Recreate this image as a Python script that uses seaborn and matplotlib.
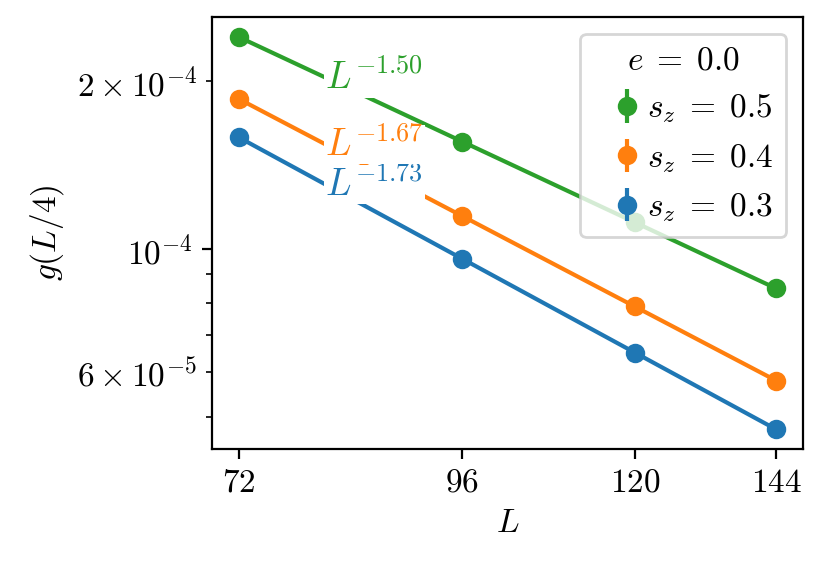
#importing the libraries
import numpy as np
import pandas as pd
import matplotlib
matplotlib.use('Agg')
import matplotlib.pyplot as plt
import seaborn as sns
from matplotlib.ticker import NullLocator

plt.rcParams['mathtext.fontset'] = 'cm'
plt.rcParams['font.family'] = 'serif'
plt.rcParams['font.serif'] = ['cmr10', 'DejaVu Serif']
plt.rcParams['axes.formatter.use_mathtext'] = True
plt.rcParams['axes.unicode_minus'] = False
plt.rcParams['font.size'] = 12

#data
L = [72, 96, 120, 144]
sz = ['0.3', '0.4', '0.5']
g_03 = [1.584e-4, 9.59e-5, 6.50e-5, 4.75e-5]
g_04 = [1.856e-4, 1.143e-4, 7.88e-5, 5.80e-5]
g_05 = [2.40e-4, 1.551e-4, 1.114e-4, 8.50e-5]
err_03 = [1.2e-6, 0.9e-6, 0.7e-6, 0.5e-6]
err_04 = [1.4e-6, 1.0e-6, 0.8e-6, 0.6e-6]
err_05 = [1.6e-6, 1.2e-6, 0.9e-6, 0.7e-6]
exponents = ['-1.73', '-1.67', '-1.50']

series = [g_03, g_04, g_05]
errors = [err_03, err_04, err_05]
colors = sns.color_palette('tab10')[:3]

fig, ax = plt.subplots(figsize=(4.15, 2.81), dpi=200)
fig.subplots_adjust(left=0.2554, right=0.9675, top=0.97, bottom=0.201)
ax.set_xscale('log')
ax.set_yscale('log')

x_text = 80.5
for g, err, s, ex, c in zip(series, errors, sz, exponents, colors):
    # power law fit in log-log
    slope, icpt = np.polyfit(np.log10(L), np.log10(g), 1)
    fit = 10 ** (icpt + slope * np.log10(L))
    sns.lineplot(x=L, y=fit, color=c, ax=ax, legend=False, linewidth=1.5)
    ax.errorbar(L, g, yerr=err, fmt='o', color=c, label=r'$s_z\;=\;%s$' % s, zorder=3)
    y_text = 10 ** (icpt + slope * np.log10(x_text))
    ax.text(x_text, y_text, '$L^{%s}$' % ex, color=c, va='center', ha='left',
            fontsize=13.5, bbox=dict(facecolor='white', edgecolor='none', pad=0.5),
            zorder=3)

# 5% margins in log space
pad = 2 ** 0.05
ax.set_xlim(min(L) / pad, max(L) * pad)
ax.set_xticks(L)
ax.set_xticklabels(['$%d$' % v for v in L])
ax.xaxis.set_minor_locator(NullLocator())
ax.set_xlabel('$L$')
ax.set_ylabel('$g(L/4)$')

handles, labels = ax.get_legend_handles_labels()
ax.legend(handles[::-1], labels[::-1], title=r'$e\;=\;0.0$', loc='upper right',
          handletextpad=-0.4)

plt.savefig('out.png', dpi=200)
